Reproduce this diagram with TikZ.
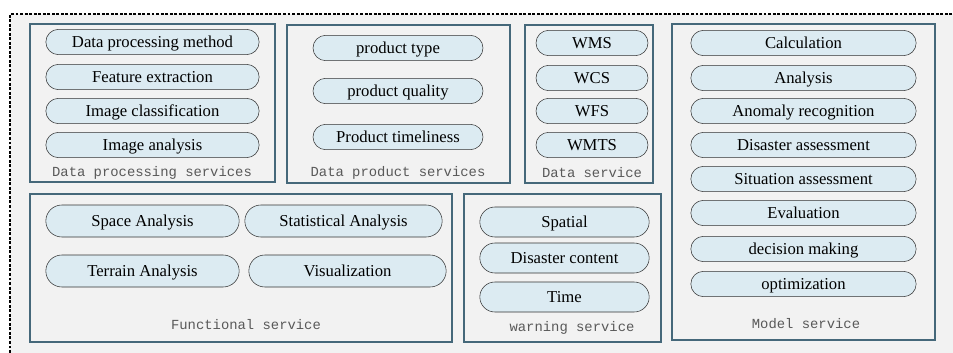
\documentclass[tikz,border=0pt]{standalone}
\usepackage{fontspec}
\setmainfont{Liberation Serif}
\setmonofont{Liberation Mono}
\usetikzlibrary{shapes.misc}
\definecolor{pillfill}{HTML}{DCEBF2}
\definecolor{boxline}{HTML}{45687A}
\definecolor{fondo}{HTML}{F2F2F2}
\begin{document}
\begin{tikzpicture}[x=0.75pt,y=-0.75pt,
    pill/.style={draw=black!80,fill=pillfill,rounded rectangle,minimum height=19pt,inner sep=0pt,text height=10pt,text depth=2pt,font=\fontsize{12.5}{13}\selectfont},
    caja/.style={draw=boxline,line width=1.1pt},
    rotulo/.style={font=\ttfamily\fontsize{10.4}{12}\selectfont,text=black!65}]
            \useasboundingbox (0,0) rectangle (953,353);
            \fill[white] (0,0) rectangle (953,353);
            \fill[fondo] (10,14) rectangle (953,353);
            \draw[line width=1pt,dash pattern=on 2.2pt off 1.2pt] (10,353) -- (10,14) -- (953,14); % borde
            % cajas
            \draw[caja] (30,24) rectangle (275,182);
            \draw[caja] (287,25) rectangle (510,183);
            \draw[caja] (525,25) rectangle (653,183);
            \draw[caja] (672,24) rectangle (935,340);
            \draw[caja] (30,194) rectangle (452,342);
            \draw[caja] (464,194) rectangle (661,342);
            % Data processing services
            \foreach \n/\y/\t in {1/42/Data processing method,2/77/Feature extraction,3/111/Image classification,4/145/Image analysis}
                \node[pill,minimum width=160pt] (proc\n) at (152.5,\y) {\t};
            \node[rotulo] (procl) at (152,173) {Data processing services};
            % Data product services
            \foreach \n/\y/\t in {1/48/product type,2/91/product quality,3/137/Product timeliness}
                \node[pill,minimum width=127.5pt] (prod\n) at (398,\y) {\t};
            \node[rotulo] (prodl) at (398,173) {Data product services};
            % Data service
            \foreach \n/\y/\t in {1/43/WMS,2/78/WCS,3/111/WFS,4/145/WMTS}
                \node[pill,minimum width=84pt] (data\n) at (592,\y) {\t};
            \node[rotulo] (datal) at (592,173) {Data service};
            % Model service
            \foreach \n/\y/\t in {1/43/Calculation,2/78/Analysis,3/111/Anomaly recognition,4/145/Disaster assessment,5/179/Situation assessment,6/213/Evaluation,7/249/decision making,8/284/optimization}
                \node[pill,minimum width=169pt] (mod\n) at (803.5,\y) {\t};
            \node[rotulo] (modl) at (806,324) {Model service};
            % Functional service
            \node[pill,minimum width=145pt,minimum height=24pt] (fun1) at (142.5,221) {Space Analysis};
            \node[pill,minimum width=148pt,minimum height=24pt] (fun2) at (343.5,221) {Statistical Analysis};
            \node[pill,minimum width=145pt,minimum height=24pt] (fun3) at (142.5,271) {Terrain Analysis};
            \node[pill,minimum width=148pt,minimum height=24pt] (fun4) at (347.5,271) {Visualization};
            \node[rotulo] (funl) at (246,325) {Functional service};
            % warning service
            \foreach \n/\y/\t in {1/222/Spatial,2/258/Disaster content,3/297/Time}
                \node[pill,minimum width=127pt,minimum height=22.5pt] (warn\n) at (564.5,\y) {\t};
            \node[rotulo] (warnl) at (572,328) {warning service};
\end{tikzpicture}
\end{document}
